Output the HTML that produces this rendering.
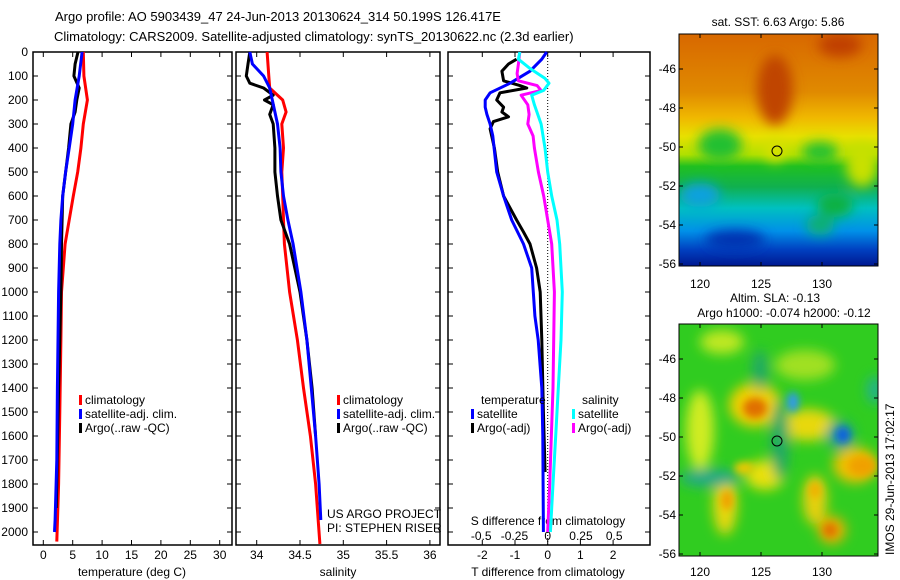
<!DOCTYPE html>
<html><head><meta charset="utf-8"><style>
html,body{margin:0;padding:0;background:#fff;}
svg{display:block;font-family:"Liberation Sans",sans-serif;}
</style></head><body>
<svg id="chart" width="900" height="580" viewBox="0 0 900 580" xmlns="http://www.w3.org/2000/svg">
<defs>
<filter id="blur6" x="-50%" y="-50%" width="200%" height="200%"><feGaussianBlur stdDeviation="6"/></filter>
<filter id="blur4" x="-50%" y="-50%" width="200%" height="200%"><feGaussianBlur stdDeviation="4"/></filter>
<linearGradient id="sstgrad" x1="0" y1="0" x2="0" y2="1">
<stop offset="0" stop-color="#d86800"/><stop offset="0.25" stop-color="#e08a00"/><stop offset="0.36" stop-color="#f0b800"/><stop offset="0.44" stop-color="#e8e000"/><stop offset="0.52" stop-color="#b0e000"/><stop offset="0.57" stop-color="#20c020"/><stop offset="0.66" stop-color="#10b050"/><stop offset="0.75" stop-color="#00c0c0"/><stop offset="0.85" stop-color="#0090e8"/><stop offset="0.93" stop-color="#0040c0"/><stop offset="1" stop-color="#001890"/>
</linearGradient>
<clipPath id="clipTop"><rect x="679" y="34" width="199" height="232"/></clipPath>
<clipPath id="clipBot"><rect x="679" y="324" width="199" height="232"/></clipPath>
</defs>
<g id="titles" font-size="13" fill="#000">
<text x="55" y="21">Argo profile: AO 5903439_47 24-Jun-2013 20130624_314 50.199S 126.417E</text>
<text x="54" y="41">Climatology: CARS2009. Satellite-adjusted climatology: synTS_20130622.nc (2.3d earlier)</text>
</g>
<g id="panels"></g>
<g id="maps">
<text x="778" y="26" font-size="12" text-anchor="middle">sat. SST: 6.63 Argo: 5.86</text>
<g clip-path="url(#clipTop)">
<rect x="679" y="34" width="199" height="232" fill="url(#sstgrad)"/>
<g filter="url(#blur6)">
<ellipse cx="775" cy="90" rx="18" ry="35" fill="#c04400"/>
<ellipse cx="840" cy="45" rx="22" ry="12" fill="#c04000"/>
<ellipse cx="720" cy="145" rx="22" ry="16" fill="#20c030"/>
<ellipse cx="820" cy="152" rx="18" ry="10" fill="#20c030"/>
<ellipse cx="862" cy="165" rx="16" ry="22" fill="#c8e000"/>
<ellipse cx="775" cy="150" rx="10" ry="12" fill="#d8e000"/>
<ellipse cx="835" cy="205" rx="18" ry="12" fill="#10b040"/>
<ellipse cx="700" cy="195" rx="20" ry="12" fill="#10a0e0"/>
<ellipse cx="735" cy="240" rx="30" ry="10" fill="#0030b0"/>
<ellipse cx="820" cy="225" rx="14" ry="10" fill="#10b070"/>
</g>
</g>
<rect x="679" y="34" width="199" height="232" fill="none" stroke="#000"/>
<circle cx="777" cy="151" r="5" fill="none" stroke="#000"/>
<text x="775" y="302" font-size="12" text-anchor="middle">Altim. SLA: -0.13</text>
<text x="784" y="317" font-size="12" text-anchor="middle">Argo h1000: -0.074 h2000: -0.12</text>
<g clip-path="url(#clipBot)">
<rect x="679" y="324" width="199" height="232" fill="#30cc20"/>
<g filter="url(#blur6)">
<ellipse cx="700" cy="430" rx="14" ry="40" fill="#d0ec20"/>
<ellipse cx="722" cy="342" rx="22" ry="12" fill="#c0e820"/>
<ellipse cx="755" cy="405" rx="26" ry="22" fill="#f0d000"/>
<ellipse cx="805" cy="365" rx="30" ry="15" fill="#a0e020"/>
<ellipse cx="808" cy="425" rx="28" ry="16" fill="#e8d810"/>
<ellipse cx="855" cy="465" rx="22" ry="18" fill="#f0c000"/>
<ellipse cx="765" cy="475" rx="20" ry="15" fill="#e8e010"/>
<ellipse cx="725" cy="505" rx="12" ry="30" fill="#e8d810"/>
<ellipse cx="815" cy="500" rx="12" ry="25" fill="#e8d010"/>
<ellipse cx="832" cy="530" rx="14" ry="14" fill="#e8b000"/>
<ellipse cx="710" cy="478" rx="30" ry="9" fill="#20a888"/>
<ellipse cx="780" cy="440" rx="9" ry="40" fill="#20a868"/>
<ellipse cx="840" cy="435" rx="14" ry="14" fill="#20a090"/>
<ellipse cx="760" cy="370" rx="8" ry="20" fill="#20a868"/>
<ellipse cx="875" cy="390" rx="8" ry="14" fill="#20b090"/>
</g>
<g filter="url(#blur4)">
<ellipse cx="755" cy="408" rx="12" ry="10" fill="#e07000"/>
<ellipse cx="793" cy="402" rx="6" ry="10" fill="#3098f0"/>
<ellipse cx="843" cy="435" rx="7" ry="8" fill="#1060e0"/>
<ellipse cx="862" cy="466" rx="14" ry="10" fill="#f0a000"/>
<ellipse cx="727" cy="500" rx="6" ry="10" fill="#f0a000"/>
<ellipse cx="830" cy="530" rx="7" ry="7" fill="#e07000"/>
<ellipse cx="815" cy="490" rx="6" ry="8" fill="#f0b000"/>
<ellipse cx="744" cy="468" rx="10" ry="6" fill="#f0c800"/>
</g>
</g>
<rect x="679" y="324" width="199" height="232" fill="none" stroke="#000"/>
<circle cx="777" cy="441" r="5" fill="none" stroke="#000"/>
<text transform="translate(894,555) rotate(-90)" font-size="12">IMOS 29-Jun-2013 17:02:17</text>
</g>
</svg>
<script>
// ---- data ----
const tempDepth = [0,100,200,300,400,500,600,700,800,1000,1200,1500,1800,2040];
const tempClim  = [6.8,6.9,7.5,6.8,6.4,5.85,5.1,4.4,3.7,3.1,3.0,2.8,2.6,2.3];
const tempSatDepth = [0,100,200,300,400,500,600,700,800,1000,1400,1700,1950,2000];
const tempSat   = [6.6,6.1,5.4,5.0,4.4,3.8,3.3,3.0,2.8,2.6,2.4,2.3,2.0,1.9];
const tempArgoDepth = [0,50,100,150,200,250,300,400,600,800,1000,1400,1800,1900];
const tempArgo  = [5.9,5.4,5.2,6.1,5.7,5.4,4.7,4.3,3.3,3.1,3.0,2.6,2.3,2.2];

const salDepth = [0,100,150,200,250,300,400,500,600,700,800,1000,1200,1400,1600,1800,2050];
const salClim  = [34.12,34.14,34.15,34.30,34.34,34.29,34.31,34.29,34.30,34.31,34.32,34.38,34.47,34.54,34.62,34.68,34.73];
const salSatDepth = [0,50,100,150,200,300,400,500,600,700,800,1000,1200,1400,1600,1800,1950];
const salSat   = [33.92,33.95,34.08,34.15,34.18,34.24,34.27,34.28,34.31,34.36,34.42,34.51,34.58,34.63,34.68,34.72,34.74];
const salArgoDepth = [0,50,100,130,150,180,200,220,260,300,400,500,600,700,800,1000,1200,1400,1600];
const salArgo  = [33.92,33.90,33.88,33.92,34.08,34.19,34.09,34.19,34.15,34.19,34.21,34.21,34.24,34.28,34.38,34.50,34.58,34.64,34.68];

const dtSatDepth = [0,30,80,130,170,200,230,260,300,350,400,500,600,700,800,900,1000,1100,1200,1400,1600,2000];
const dtSat = [-0.03,-0.18,-0.54,-1.15,-1.76,-1.91,-1.91,-1.86,-1.76,-1.68,-1.64,-1.56,-1.35,-1.1,-0.74,-0.49,-0.44,-0.39,-0.29,-0.18,-0.15,-0.13];
const dtArgoDepth = [30,50,80,120,140,150,170,200,230,250,270,290,320,400,500,600,700,750,800,900,1000,1200,1500,1750];
const dtArgo = [-0.95,-1.2,-1.4,-1.35,-0.85,-0.64,-1.46,-1.56,-1.35,-1.4,-1.2,-1.66,-1.76,-1.63,-1.53,-1.35,-0.95,-0.74,-0.54,-0.34,-0.23,-0.18,-0.13,-0.08];
const dsSatDepth = [0,30,70,110,130,160,180,220,300,400,500,600,700,800,1000,1200,1400,1600,1800,2000];
const dsSat = [-0.21,-0.22,-0.13,-0.02,0.01,-0.03,-0.12,-0.1,-0.05,-0.02,0.0,0.03,0.07,0.09,0.11,0.10,0.08,0.06,0.04,0.02];
const dsArgoDepth = [0,50,90,120,140,160,180,220,260,300,350,400,500,600,700,800,1000,1400,1800,2000];
const dsArgo = [-0.21,-0.22,-0.23,-0.22,-0.08,-0.05,-0.2,-0.15,-0.14,-0.15,-0.11,-0.1,-0.07,-0.03,0.0,0.03,0.05,0.04,0.015,0.0];

const depthTicks = [0,100,200,300,400,500,600,700,800,900,1000,1100,1200,1300,1400,1500,1600,1700,1800,1900,2000];
const tempTicks = [0,5,10,15,20,25,30];
const salTicks = [34,34.5,35,35.5,36];
const salTickLabels = ["34","34.5","35","35.5","36"];
const dtTicks = [-2,-1,0,1,2];
const dsTicks = [-0.5,-0.25,0,0.25,0.5];
const dsTickLabels = ["-0.5","-0.25","0","0.25","0.5"];
const lonTicks = [120,125,130];
const latTicks = [-46,-48,-50,-52,-54,-56];

// ---- scales ----
const NS = "http://www.w3.org/2000/svg";
const TOP = 52, BOT = 545;
const yD = d => TOP + d * 0.24;
const xT = v => 43.3 + v * 5.88;
const xS = v => 256.7 + (v - 34) * 86.6;
const xDT = v => 547.7 + v * 32.7;
const xDS = v => 547.7 + v * 133;
const xLon = v => 700 + (v - 120) * 12.2;
const yLatTop = v => 69 + (-46 - v) * 19.5;
const yLatBot = v => 359 + (-46 - v) * 19.5;

const root = document.getElementById('panels');
function mk(tag, attrs, parent) {
  const e = document.createElementNS(NS, tag);
  for (const k in attrs) e.setAttribute(k, attrs[k]);
  (parent || root).appendChild(e);
  return e;
}
function txt(s, x, y, anchor, parent, size) {
  const t = mk('text', {x: x, y: y, 'text-anchor': anchor || 'start', 'font-size': size || 12}, parent);
  t.textContent = s;
  return t;
}
function line(xs, ds, xf, color, name, parent) {
  const pts = xs.map((v, i) => xf(v).toFixed(1) + ',' + yD(ds[i]).toFixed(1)).join(' ');
  const p = mk('polyline', {points: pts, fill: 'none', stroke: color, 'stroke-width': 3, 'stroke-linejoin': 'round'}, parent);
  
  
  return p;
}
function panel(x0, x1, name) {
  const g = mk('g', {});
  
  
  mk('rect', {x: x0, y: TOP, width: x1 - x0, height: BOT - TOP, fill: 'none', stroke: '#000', 'stroke-width': 1.5}, g);
  depthTicks.forEach(d => {
    mk('line', {x1: x0, x2: x0 + 5, y1: yD(d), y2: yD(d), stroke: '#000'}, g);
    mk('line', {x1: x1 - 5, x2: x1, y1: yD(d), y2: yD(d), stroke: '#000'}, g);
  });
  return g;
}
function xticks(g, ticks, xf, labels, ly) {
  ticks.forEach((v, i) => {
    const x = xf(v);
    mk('line', {x1: x, x2: x, y1: BOT, y2: BOT - 5, stroke: '#000'}, g);
    mk('line', {x1: x, x2: x, y1: TOP, y2: TOP + 5, stroke: '#000'}, g);
    if (labels) txt(labels[i], x, ly, 'middle', g);
  });
}
function legend(g, x, y, items) {
  items.forEach((it, i) => {
    const r = mk('rect', {x: x, y: y + i * 14 - 9, width: 3, height: 10, fill: it[1]}, g);
    
    
    const t = txt(it[0], x + 6, y + i * 14, 'start', g);
    
    
  });
}

const yl = mk('g', {});


depthTicks.forEach(d => txt(String(d), 28, yD(d) + 4, 'end', yl));

const g1 = panel(33, 232, 'temperature-panel');
xticks(g1, tempTicks, xT, tempTicks.map(String), 559);
txt('temperature (deg C)', 132, 576, 'middle', g1);
line(tempClim, tempDepth, xT, '#ff0000', 'temp-climatology-line', g1);
line(tempArgo, tempArgoDepth, xT, '#000000', 'temp-argo-line', g1);
line(tempSat, tempSatDepth, xT, '#0000ff', 'temp-satellite-line', g1);
legend(g1, 79, 404, [['climatology', '#ff0000'], ['satellite-adj. clim.', '#0000ff'], ['Argo(..raw -QC)', '#000000']]);

const g2 = panel(236, 440, 'salinity-panel');
xticks(g2, salTicks, xS, salTickLabels, 559);
txt('salinity', 338, 576, 'middle', g2);
line(salClim, salDepth, xS, '#ff0000', 'sal-climatology-line', g2);
line(salArgo, salArgoDepth, xS, '#000000', 'sal-argo-line', g2);
line(salSat, salSatDepth, xS, '#0000ff', 'sal-satellite-line', g2);
legend(g2, 337, 404, [['climatology', '#ff0000'], ['satellite-adj. clim.', '#0000ff'], ['Argo(..raw -QC)', '#000000']]);
txt('US ARGO PROJECT', 327, 518, 'start', g2);
txt('PI: STEPHEN RISER', 327, 532, 'start', g2);

const g3 = panel(448, 650, 'difference-panel');
xticks(g3, dtTicks, xDT, dtTicks.map(String), 559);
dsTicks.forEach((v, i) => txt(dsTickLabels[i], xDS(v), 540, 'middle', g3));
txt('S difference from climatology', 548, 525, 'middle', g3);
txt('T difference from climatology', 548, 576, 'middle', g3);
mk('line', {x1: xDT(0), x2: xDT(0), y1: TOP, y2: BOT, stroke: '#000', 'stroke-dasharray': '1,2'}, g3);
line(dtArgo, dtArgoDepth, xDT, '#000000', 't-diff-argo-line', g3);
line(dtSat, dtSatDepth, xDT, '#0000ff', 't-diff-satellite-line', g3);
line(dsArgo, dsArgoDepth, xDS, '#ff00ff', 's-diff-argo-line', g3);
line(dsSat, dsSatDepth, xDS, '#00ffff', 's-diff-satellite-line', g3);
txt('temperature', 481, 404, 'start', g3);
legend(g3, 471, 418, [['satellite', '#0000ff'], ['Argo(-adj)', '#000000']]);
txt('salinity', 582, 404, 'start', g3);
legend(g3, 572, 418, [['satellite', '#00ffff'], ['Argo(-adj)', '#ff00ff']]);

const mg = document.getElementById('maps');
[[yLatTop, 266, 288], [yLatBot, 556, 576]].forEach(([yf, by, ly]) => {
  latTicks.forEach(v => {
    const y = yf(v);
    mk('line', {x1: 679, x2: 683, y1: y, y2: y, stroke: '#000'}, mg);
    mk('line', {x1: 874, x2: 878, y1: y, y2: y, stroke: '#000'}, mg);
    txt(String(v), 676, y + 4, 'end', mg);
  });
  lonTicks.forEach(v => {
    const x = xLon(v);
    mk('line', {x1: x, x2: x, y1: by, y2: by - 4, stroke: '#000'}, mg);
    mk('line', {x1: x, x2: x, y1: by - 232, y2: by - 228, stroke: '#000'}, mg);
    txt(String(v), x, ly, 'middle', mg);
  });
});
</script>
</body></html>
